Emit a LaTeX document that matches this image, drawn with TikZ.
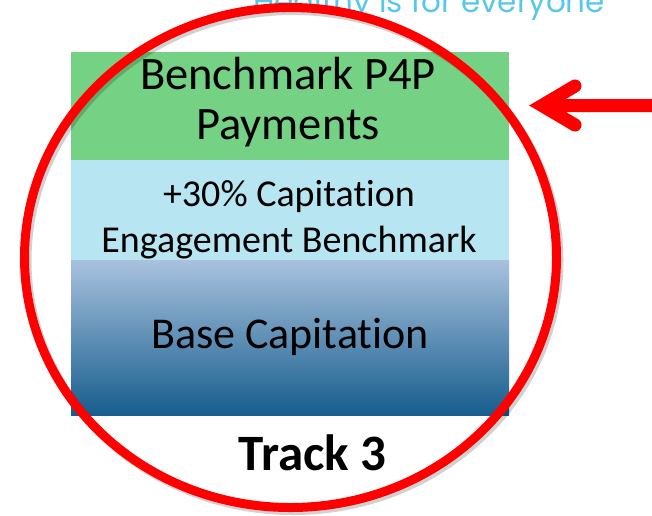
\documentclass[tikz,border=0pt]{standalone}
\usepackage{fontspec}
\setmainfont{Carlito}[Ligatures=NoCommon]
\newfontfamily\sloganfont{Poppins}
\usetikzlibrary{positioning,shapes.geometric}
\definecolor{p4pgreen}{HTML}{75D184}
\definecolor{engageblue}{HTML}{B7E5F2}
\definecolor{basetop}{HTML}{A9C2DE}
\definecolor{basebottom}{HTML}{175D8D}
\definecolor{slogancol}{HTML}{58C8E6}
\tikzset{
  layer/.style={minimum width=438pt, inner sep=0pt, outer sep=0pt},
  ring/.style={ellipse, draw=red, line width=9pt, inner sep=0pt,
    minimum width=532pt, minimum height=500pt},
  pointer/.style={red, line width=13pt, line cap=round, line join=miter},
  softshadow/.style={draw=black, opacity=0.18}
}

\begin{document}
\begin{tikzpicture}[x=1pt,y=-1pt]
  \useasboundingbox (0,0) rectangle (652,515);

  % slogan, cut by the top edge
  \node[anchor=base west, inner sep=0pt, text=slogancol,
    font=\sloganfont\fontsize{31}{34}\selectfont] (slogan) at (253,12)
    {Healthy is for everyone};

  % layers
  \node[layer, fill=p4pgreen, minimum height=108pt] (p4p) at (290,106) {};
  \node[layer, fill=engageblue, minimum height=100pt, below=0pt of p4p] (engage) {};
  \node[layer, top color=basetop, bottom color=basebottom,
    minimum height=155pt, below=0pt of engage] (base) {};

  \node[align=center, font=\fontsize{46.5}{50}\selectfont] (p4ptext) at (288,102)
    {Benchmark P4P\\Payments};
  \node[align=center, font=\fontsize{38}{46}\selectfont] (engagetext) at (289,220)
    {+30\% Capitation\\Engagement Benchmark};
  \node[anchor=base, font=\fontsize{44}{50}\selectfont] (basetext) at (290,348)
    {Base Capitation};
  \node[anchor=base, font=\bfseries\fontsize{51}{56}\selectfont] (track) at (312.5,470)
    {Track 3};

  % red ring
  \node[ring, softshadow] (ringshadow) at (293,260.5) {};
  \node[ring] (ring) at (290.5,257.5) {};

  % arrow
  \coordinate (tip) at (542,105.5);
  \coordinate (barbup) at (575,86);
  \coordinate (barbdown) at (575,125);
  \coordinate (tail) at (672,105.5);
  \draw[pointer, black, opacity=0.18, shift={(2,3)}]
    (tail) -- (tip) (barbup) -- (tip) -- (barbdown);
  \draw[pointer] (tail) -- (tip) (barbup) -- (tip) -- (barbdown);
\end{tikzpicture}
\end{document}
